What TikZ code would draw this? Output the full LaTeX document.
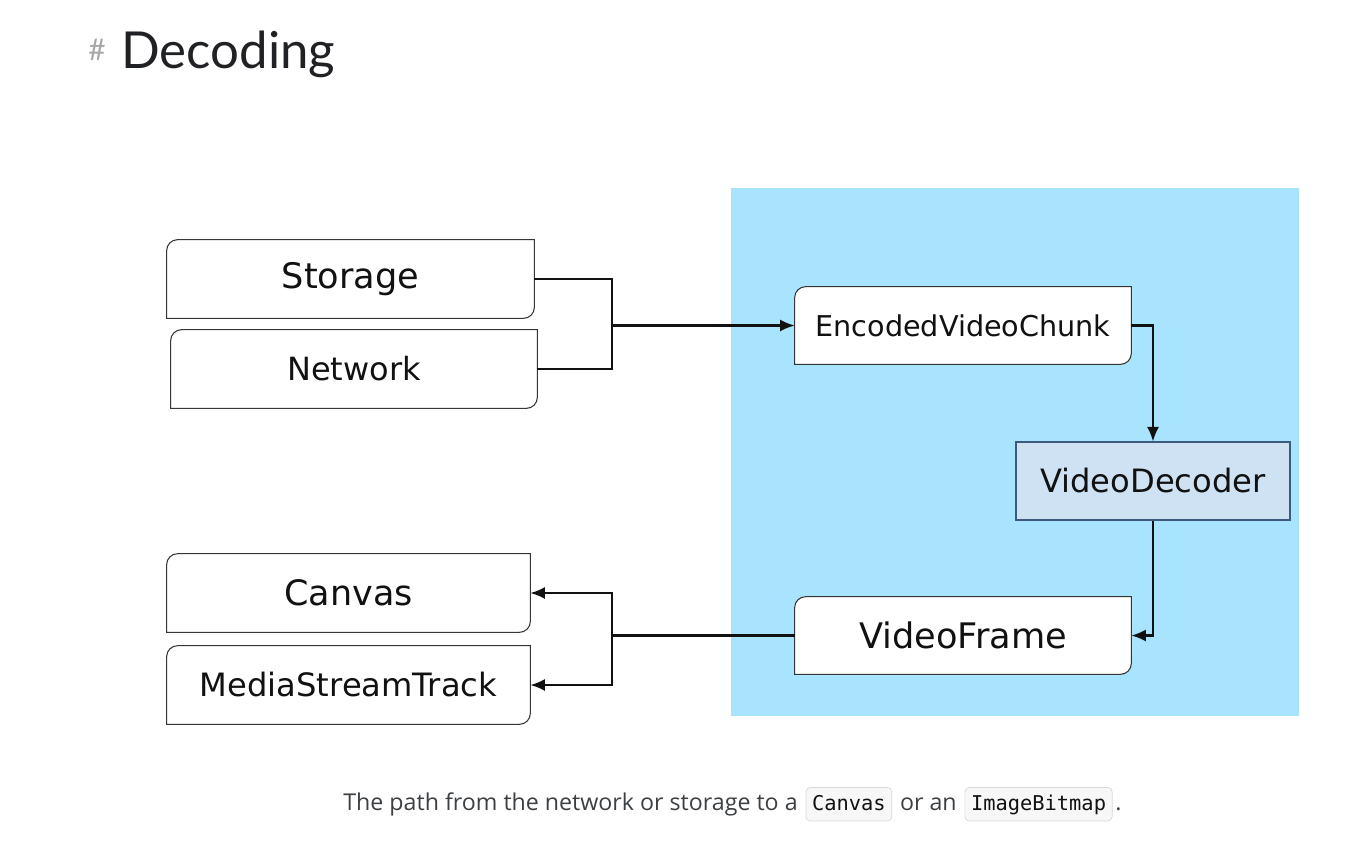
\documentclass[tikz,border=0pt]{standalone}
\usepackage{fontspec}
\setmainfont{DejaVu Sans}
\setmonofont{DejaVu Sans Mono}
\newfontfamily\headfont{Lato}
\newfontfamily\capfont{Open Sans}
\usetikzlibrary{arrows.meta,positioning,calc}
\pgfdeclarelayer{background}
\pgfsetlayers{background,main}
\definecolor{ink}{HTML}{111111}
\definecolor{skywash}{HTML}{A8E4FD}
\definecolor{decfill}{HTML}{CFE2F3}
\definecolor{decline}{HTML}{3C5A7E}
\definecolor{headink}{HTML}{202124}
\definecolor{capink}{HTML}{3C4043}
\tikzset{tab/.style={inner sep=0pt,minimum height=1.56cm,text=ink},tabline/.style={draw=ink!85,fill=white,line width=.6pt},arr/.style={-{Latex[length=2.9mm,width=2.4mm]},draw=ink,line width=1.2pt},wire/.style={draw=ink,line width=1.2pt},code/.style={draw=black!15,fill=black!3,rounded corners=2.5pt,inner xsep=3.5pt,inner ysep=.13cm,text height=.32cm,text depth=.09cm,text=ink,font=\ttfamily\fontsize{11.6}{14}\selectfont},caption/.style={inner sep=0pt,text=capink,font=\capfont\fontsize{13.2}{16}\selectfont}}
\newcommand{\rr}{.22cm}
\newcommand{\tabshape}[1]{\draw[tabline] ([xshift=\rr]#1.north west) -- (#1.north east) -- ([yshift=\rr]#1.south east) arc[start angle=0,end angle=-90,radius=\rr] -- (#1.south west) -- ([yshift=-\rr]#1.north west) arc[start angle=180,end angle=90,radius=\rr] -- cycle;}

\begin{document}
\begin{tikzpicture}[x=1cm,y=1cm]
\useasboundingbox (0,0) rectangle (27.08,-17);

\node[anchor=base west,inner sep=0pt,text=headink,font=\headfont\fontsize{29}{35}\selectfont] (title) at (2.42,-1.36) {Decoding};
\node[anchor=base east,inner sep=0pt,text=black!35,font=\headfont\fontsize{17}{20}\selectfont] (hash) at (2.12,-1.2) {\#};

\node[tab,minimum width=7.34cm,font=\fontsize{20}{24}\selectfont] (storage) at (7.01,-5.58) {Storage};
\node[tab,minimum width=7.32cm,font=\fontsize{18.2}{22}\selectfont] (network) at (7.08,-7.38) {Network};
\node[tab,minimum width=7.26cm,font=\fontsize{19.9}{24}\selectfont] (canvas) at (6.97,-11.86) {Canvas};
\node[tab,minimum width=7.26cm,font=\fontsize{18.3}{22}\selectfont] (mst) at (6.97,-13.70) {MediaStreamTrack};
\node[tab,minimum width=6.72cm,minimum height=1.54cm,font=\fontsize{16.3}{20}\selectfont] (evc) at (19.26,-6.51) {EncodedVideoChunk};
\node[tab,minimum width=5.48cm,draw=decline,fill=decfill,line width=.6pt,font=\fontsize{18.3}{22}\selectfont] (decoder) at (23.06,-9.62) {VideoDecoder};
\node[tab,minimum width=6.72cm,minimum height=1.54cm,font=\fontsize{20}{24}\selectfont] (frame) at (19.26,-12.71) {VideoFrame};

\begin{pgfonlayer}{background}
\node[fill=skywash,inner sep=0pt,minimum width=11.36cm,minimum height=10.56cm] (panel) at (20.30,-9.04) {};
\foreach \n in {storage,network,canvas,mst,evc,frame} {\tabshape{\n}}
\end{pgfonlayer}

\coordinate (inmerge) at (12.24,-6.51);
\coordinate (outmerge) at (12.24,-12.71);
\draw[wire] (storage.east) -| (inmerge); \draw[wire] (network.east) -| (inmerge); \draw[arr] (inmerge) -- (evc.west);
\draw[arr] (evc.east) -| (decoder.north);
\draw[arr] (decoder.south) |- (frame.east);
\draw[wire] (frame.west) -- (outmerge); \draw[arr] (outmerge) |- (canvas.east); \draw[arr] (outmerge) |- (mst.east);

\node[caption,anchor=base west] (captext) at (6.86,-16.2) {The path from the network or storage to a};
\node[code,anchor=base west] (capcanvas) at ([xshift=.15cm]captext.base east) {Canvas};
\node[caption,anchor=base west] (capor) at ([xshift=.15cm]capcanvas.base east) {or an};
\node[code,anchor=base west] (capbitmap) at ([xshift=.15cm]capor.base east) {ImageBitmap};
\node[caption,anchor=base west] (capdot) at ([xshift=.05cm]capbitmap.base east) {.};
\end{tikzpicture}
\end{document}
